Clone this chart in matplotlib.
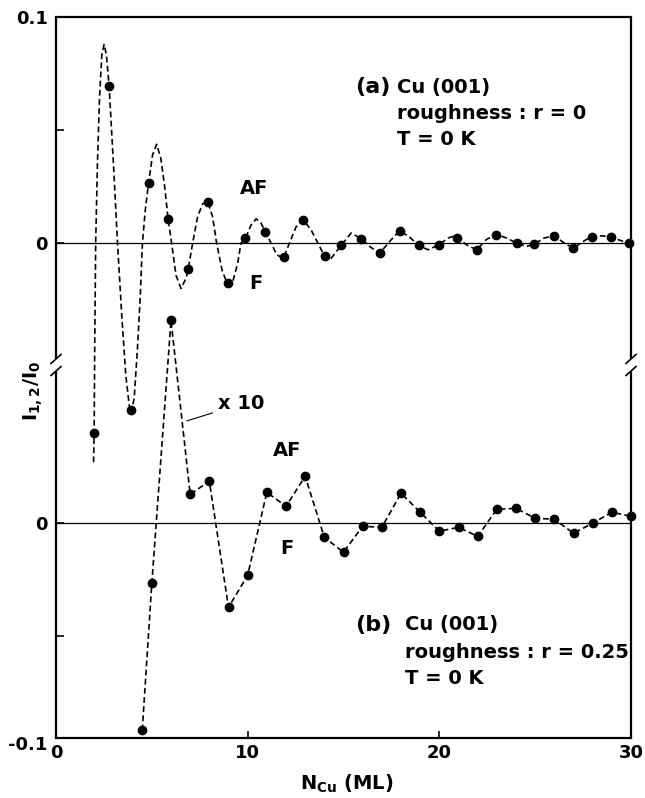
import numpy as np
import matplotlib
matplotlib.use('Agg')
from matplotlib import pyplot as plt

plt.rcParams['font.family'] = ['DejaVu Sans']
plt.rcParams['font.weight'] = 'bold'
plt.rcParams['mathtext.fontset'] = 'dejavusans'

# (a) r = 0 : calculated curve (dashed)
curve_x = [1.96, 1.99, 2.02, 2.07, 2.16, 2.27, 2.39, 2.51, 2.63, 2.77, 3.0, 3.21,
           3.43, 3.64, 3.82, 3.92, 4.08, 4.25, 4.39, 4.51, 4.65, 4.83, 5.04, 5.25,
           5.47, 5.68, 5.85, 6.03, 6.26, 6.52, 6.78, 6.9, 7.13, 7.39, 7.65, 7.91,
           8.17, 8.38, 8.66, 8.96, 9.22, 9.48, 9.65, 9.88, 10.18, 10.44, 10.7, 10.93,
           11.22, 11.52, 11.87, 12.18, 12.53, 12.91, 13.31, 13.66, 14.01, 14.3, 14.88,
           15.4, 15.93, 16.36, 16.88, 17.41, 17.93, 18.45, 18.92, 19.41, 19.97, 20.46,
           20.81, 21.42, 21.94, 22.46, 22.98, 23.51, 24.03, 24.55, 24.95, 25.46, 25.98,
           26.47, 26.99, 27.51, 27.95, 28.47, 28.96, 29.43, 29.87]
curve_i = [-0.097, -0.0842, -0.0466, 0.0, 0.0345, 0.064, 0.0832, 0.0879, 0.0832, 0.0696,
           0.0345, 0.0, -0.0319, -0.0584, -0.0717, -0.0753, -0.0687, -0.0466, -0.0245,
           0.0, 0.0139, 0.0267, 0.039, 0.0437, 0.0375, 0.0242, 0.0105, 0.0, -0.0142,
           -0.0201, -0.0157, -0.0115, 0.0, 0.0117, 0.0173, 0.0186, 0.0116, 0.0, -0.0119,
           -0.0186, -0.0171, -0.009, 0.0, 0.002, 0.008, 0.0107, 0.0088, 0.0047, 0.0,
           -0.0052, -0.0068, 0.0, 0.0072, 0.0102, 0.0058, 0.0, -0.0057, -0.0074, -0.001,
           0.0044, 0.0019, -0.0015, -0.0046, 0.0007, 0.0055, 0.0026, -0.001, -0.003,
           -0.0008, 0.0022, 0.0032, -0.0008, -0.003, 0.0016, 0.0038, 0.0022, 0.0, -0.0015,
           -0.0005, 0.0022, 0.0032, 0.0003, -0.0023, 0.0007, 0.003, 0.0032, 0.0027,
           0.0012, 0.0]

# (a) r = 0 : calculated points
smooth_n = [2.0, 2.77, 3.92, 4.83, 5.85, 6.9, 7.91, 8.96, 9.88, 10.93, 11.87, 12.91,
            14.01, 14.88, 15.93, 16.88, 17.93, 18.92, 19.97, 20.93, 21.94, 22.98,
            24.03, 24.95, 25.98, 26.99, 27.95, 28.96, 29.87]
smooth_i = [-0.0842, 0.0696, -0.0739, 0.0267, 0.0105, -0.0115, 0.0181, -0.0177, 0.002,
            0.0047, -0.0062, 0.0102, -0.0057, -0.001, 0.0019, -0.0046, 0.0055, -0.001,
            -0.0008, 0.0022, -0.003, 0.0035, 0.0, -0.0005, 0.0032, -0.0023, 0.0027,
            0.0027, 0.0]

# (b) r = 0.25, values shown magnified x 10
rough_n = [4.5] + list(range(5, 31))
rough_i_x10 = [-0.0916, -0.0265, 0.0898, 0.0128, 0.0186, -0.0372, -0.023, 0.0137,
               0.0075, 0.0208, -0.0062, -0.0128, -0.0013, -0.0018, 0.0133, 0.0049,
               -0.0035, -0.0018, -0.0058, 0.0062, 0.0066, 0.0022, 0.0018, -0.0044,
               0.0, 0.0049, 0.0031]

OFFSET = 0.124   # lower panel zero sits this far below the upper one
YBOT = -0.219

fig = plt.figure(figsize=(6.45, 7.98), dpi=100)
ax = fig.add_axes([56 / 645, 60 / 798, 575 / 645, 721 / 798])
ax.set_xlim(0, 30)
ax.set_ylim(YBOT, 0.1)

dash = (0, (3.5, 2))
ax.axhline(0, color='black', lw=0.9)
ax.axhline(-OFFSET, color='black', lw=0.9)

ax.plot(curve_x, curve_i, color='black', lw=1.2, ls=dash)
ax.plot(smooth_n, smooth_i, 'o', color='black', ms=6, clip_on=False, zorder=5)

rough_y = np.array(rough_i_x10) - OFFSET
ax.plot(rough_n, rough_y, color='black', lw=1.2, ls=dash)
ax.plot(rough_n, rough_y, 'o', color='black', ms=6, clip_on=False, zorder=5)

# axes frame with broken left/right sides
for s in ['left', 'right']:
    ax.spines[s].set_visible(False)
for s in ['top', 'bottom']:
    ax.spines[s].set_linewidth(1.6)
gap_top, gap_bot = 0.5257, 0.509
dx, dy = 0.0087, 0.0062
for xs in [0, 1]:
    ax.plot([xs, xs], [gap_top, 1], transform=ax.transAxes, color='black',
            lw=1.6, clip_on=False, solid_capstyle='butt')
    ax.plot([xs, xs], [0, gap_bot], transform=ax.transAxes, color='black',
            lw=1.6, clip_on=False, solid_capstyle='butt')
    for yb in [gap_top, gap_bot]:
        ax.plot([xs - dx, xs + dx], [yb - dy, yb + dy], transform=ax.transAxes,
                color='black', lw=1.2, clip_on=False)

ax.set_xticks([0, 10, 20, 30])
ax.set_yticks([0.1, 0.05, 0, -OFFSET, -OFFSET - 0.05])
ax.set_yticklabels(['0.1', '', '0', '0', ''])
ax.tick_params(axis='y', direction='in', length=6, width=1.2, labelsize=13, pad=6)
ax.tick_params(axis='x', direction='in', length=5, width=1.2, labelsize=13, pad=4)
ax.annotate('-0.1', xy=(0, 0), xycoords='axes fraction', xytext=(-6, -5),
            textcoords='offset points', ha='right', va='center', fontsize=13)

ax.text(0.506, -0.064, r'N$_{\mathbf{Cu}}$ (ML)', transform=ax.transAxes,
        ha='center', va='center', fontsize=14)
ax.text(-0.04, 0.481, r'$\mathbf{I_{1,2}/I_0}$', transform=ax.transAxes,
        rotation=90, ha='center', va='center', fontsize=14)

ax.text(15.6, 0.069, '(a)', fontsize=16, va='center')
ax.text(17.79, 0.0686, 'Cu (001)', fontsize=14, va='center')
ax.text(17.79, 0.0575, 'roughness : r = 0', fontsize=14, va='center')
ax.text(17.79, 0.0456, 'T = 0 K', fontsize=14, va='center')

ax.text(15.6, -0.169, '(b)', fontsize=16, va='center')
ax.text(18.2, -0.169, 'Cu (001)', fontsize=14, va='center')
ax.text(18.2, -0.181, 'roughness : r = 0.25', fontsize=14, va='center')
ax.text(18.2, -0.1925, 'T = 0 K', fontsize=14, va='center')

ax.text(10.33, 0.0243, 'AF', fontsize=14, ha='center', va='center')
ax.text(10.43, -0.0177, 'F', fontsize=14, ha='center', va='center')
ax.text(12.05, -0.092, 'AF', fontsize=14, ha='center', va='center')
ax.text(12.05, -0.135, 'F', fontsize=14, ha='center', va='center')

ax.annotate('x 10', xy=(6.83, -0.0787), xytext=(8.45, -0.0712), fontsize=14,
            va='center', arrowprops=dict(arrowstyle='-', lw=0.8, color='black',
                                         shrinkA=2, shrinkB=0))

fig.savefig('out.png', dpi=100)
